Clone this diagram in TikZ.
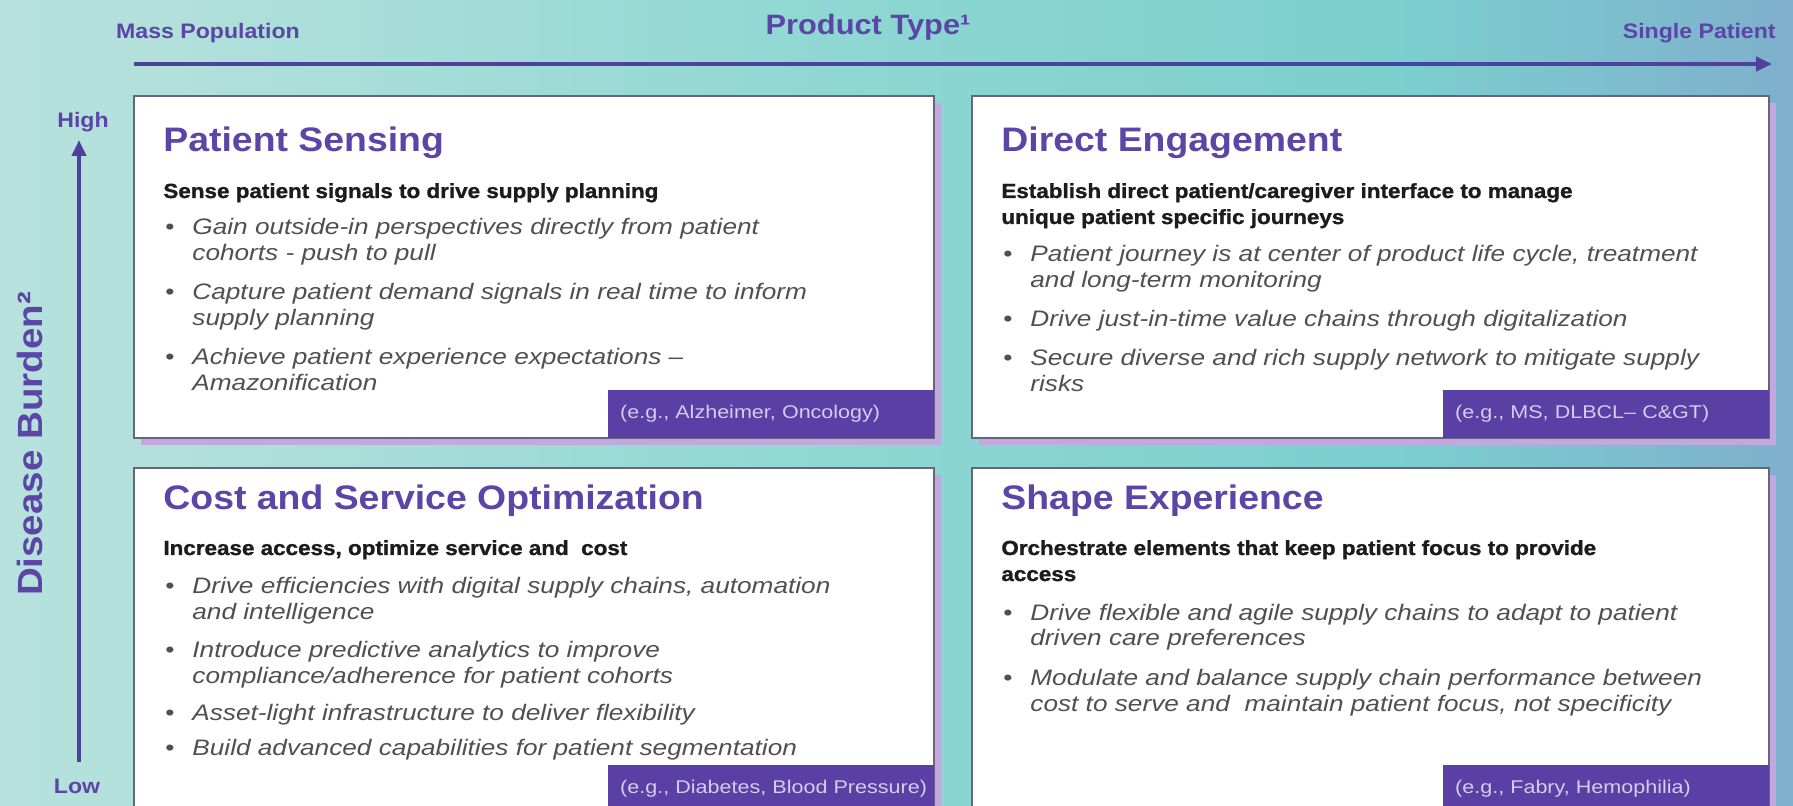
\documentclass[tikz,border=0pt]{standalone}
\usepackage{fontspec}
\setmainfont{Liberation Sans}
\newfontfamily\kopffont{Liberation Sans}[FakeStretch=1.1]
\newfontfamily\schwerfont{Liberation Sans}[FakeStretch=1.1, FakeBold=1.2]
\newfontfamily\breitfont{Liberation Sans}[FakeStretch=1.17]
\usetikzlibrary{arrows.meta,shadows}

\definecolor{lila}{HTML}{5B46A8}
\definecolor{pfeillila}{HTML}{4F3F9E}
\definecolor{etikettlila}{HTML}{5A3FA5}
\definecolor{etiketttext}{HTML}{D6CCEE}
\definecolor{schatten}{HTML}{C3A8E0}
\definecolor{rand}{HTML}{66647F}
\definecolor{fliess}{HTML}{505050}
\definecolor{unterkopf}{HTML}{1C1C1C}
\definecolor{bgA}{HTML}{CDE8E5}
\definecolor{bgB}{HTML}{B2E0DB}
\definecolor{bgC}{HTML}{8CD6D2}
\definecolor{bgD}{HTML}{7BCFCF}
\definecolor{bgE}{HTML}{80A4CB}
\definecolor{bgF}{HTML}{8C80C6}
\pgfdeclarehorizontalshading{hintergrund}{100bp}{color(0bp)=(bgA); color(30bp)=(bgB);
  color(50bp)=(bgC); color(64bp)=(bgD); color(79bp)=(bgE); color(100bp)=(bgF)}

\newcommand{\punkt}{{\upshape\textbullet}}

\tikzset{
  feld/.style={draw=rand, line width=0.8pt, fill=white, anchor=north west, inner sep=0pt,
    general shadow={fill=schatten, shadow xshift=3.5pt, shadow yshift=-3.5pt}},
  titel/.style={anchor=base west, inner sep=0pt, text=lila,
    font=\kopffont\bfseries\fontsize{17}{20}\selectfont},
  unterzeile/.style={anchor=base west, inner sep=0pt, text=unterkopf,
    font=\schwerfont\bfseries\fontsize{10.2}{13}\selectfont},
  punkte/.style={anchor=base west, inner sep=0pt, text=fliess,
    font=\breitfont\itshape\fontsize{11.2}{13}\selectfont},
  etikett/.style={anchor=south east, fill=etikettlila, text=etiketttext,
    minimum width=163pt, minimum height=24pt, inner xsep=6pt, text width=151pt, align=left,
    font=\breitfont\fontsize{9.2}{11}\selectfont},
  achse/.style={draw=pfeillila, line width=2pt, -{Triangle[length=8pt,width=7pt]}},
  achstext/.style={text=lila, inner sep=0pt, font=\kopffont\bfseries\fontsize{10.5}{12}\selectfont},
}

\begin{document}
\begin{tikzpicture}[x=0.5pt, y=-0.5pt]
	\useasboundingbox (0,0) rectangle (1793,806);
	\clip (0,0) rectangle (1793,806);
	\shade[shading=hintergrund] (0,0) rectangle (1793,806); % Hintergrund mit Verlauf

	% Achsen
	\coordinate (x-anf) at (134,64);
	\coordinate (x-end) at (1772,64);
	\draw[achse] (x-anf) -- (x-end);
	\coordinate (y-anf) at (79,762);
	\coordinate (y-end) at (79,140);
	\draw[achse] (y-anf) -- (y-end);

	\node[achstext, anchor=base] (masse) at (208,39) {Mass Population};
	\node[achstext, anchor=base, font=\kopffont\bfseries\fontsize{14}{16}\selectfont] (typ) at (868,35) {Product Type¹};
	\node[achstext, anchor=base east] (einzel) at (1776,39) {Single Patient};
	\node[achstext, anchor=base] (hoch) at (83,128) {High};
	\node[achstext, anchor=base] (tief) at (77,793) {Low};
	\node[achstext, anchor=base, rotate=90, font=\kopffont\bfseries\fontsize{17.5}{20}\selectfont] (last) at (42,444) {Disease Burden²};

	% Felder
	\node[feld, minimum width=400pt, minimum height=171pt] (ps) at (133,95) {};
	\node[feld, minimum width=398.5pt, minimum height=171pt] (de) at (971,95) {};
	\node[feld, minimum width=400pt, minimum height=172.5pt] (cso) at (133,467) {};
	\node[feld, minimum width=398.5pt, minimum height=172.5pt] (se) at (971,467) {};

	% oben links
	\node[titel] (ps-t) at (163,152) {Patient Sensing};
	\node[unterzeile] (ps-u) at (163,198) {Sense patient signals to drive supply planning};
	\node[punkte] (ps-p) at (165,235) {\begin{tabular}[t]{@{}p{13.5pt}@{}l@{}}
		\punkt & Gain outside-in perspectives directly from patient\\
		       & cohorts - push to pull\\[6.5pt]
		\punkt & Capture patient demand signals in real time to inform\\
		       & supply planning\\[6.5pt]
		\punkt & Achieve patient experience expectations –\\
		       & Amazonification
	\end{tabular}};
	\node[etikett] (ps-e) at (ps.south east) {\mbox{(e.g., Alzheimer, Oncology)}};

	% oben rechts
	\node[titel] (de-t) at (1001,152) {Direct Engagement};
	\node[unterzeile] (de-u) at (1001,198) {\begin{tabular}[t]{@{}l@{}}
		Establish direct patient/caregiver interface to manage\\
		unique patient specific journeys
	\end{tabular}};
	\node[punkte] (de-p) at (1003,262) {\begin{tabular}[t]{@{}p{13.5pt}@{}l@{}}
		\punkt & Patient journey is at center of product life cycle, treatment\\
		       & and long-term monitoring\\[6.5pt]
		\punkt & Drive just-in-time value chains through digitalization\\[6.5pt]
		\punkt & Secure diverse and rich supply network to mitigate supply\\
		       & risks
	\end{tabular}};
	\node[etikett] (de-e) at (de.south east) {\mbox{(e.g., MS, DLBCL– C\&GT)}};

	% unten links
	\node[titel] (cso-t) at (163,510) {Cost and Service Optimization};
	\node[unterzeile] (cso-u) at (163,555) {Increase access, optimize service and~ cost};
	\node[punkte] (cso-p) at (165,594) {\begin{tabular}[t]{@{}p{13.5pt}@{}l@{}}
		\punkt & Drive efficiencies with digital supply chains, automation\\
		       & and intelligence\\[6pt]
		\punkt & Introduce predictive analytics to improve\\
		       & compliance/adherence for patient cohorts\\[5pt]
		\punkt & Asset-light infrastructure to deliver flexibility\\[5pt]
		\punkt & Build advanced capabilities for patient segmentation
	\end{tabular}};
	\node[etikett] (cso-e) at (cso.south east) {\mbox{(e.g., Diabetes, Blood Pressure)}};

	% unten rechts
	\node[titel] (se-t) at (1001,510) {Shape Experience};
	\node[unterzeile] (se-u) at (1001,555) {\begin{tabular}[t]{@{}l@{}}
		Orchestrate elements that keep patient focus to provide\\
		access
	\end{tabular}};
	\node[punkte] (se-p) at (1003,620) {\begin{tabular}[t]{@{}p{13.5pt}@{}l@{}}
		\punkt & Drive flexible and agile supply chains to adapt to patient\\
		       & driven care preferences\\[6.5pt]
		\punkt & Modulate and balance supply chain performance between\\
		       & cost to serve and~ maintain patient focus, not specificity
	\end{tabular}};
	\node[etikett] (se-e) at (se.south east) {\mbox{(e.g., Fabry, Hemophilia)}};

	%\draw[help lines, step=50] (0,0) grid (1793,806);
\end{tikzpicture}
\end{document}
